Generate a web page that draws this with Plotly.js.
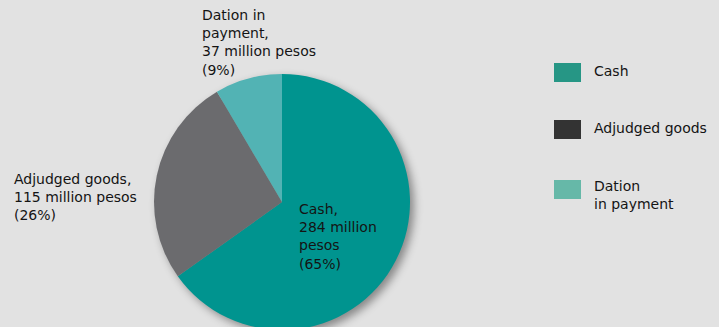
<!DOCTYPE html>
<html>
<head>
<meta charset="utf-8">
<script src="https://cdn.plot.ly/plotly-3.0.1.min.js"></script>
<style>
html,body{margin:0;padding:0;background:#e2e2e2;overflow:hidden;width:719px;height:327px;}
#chart{width:719px;height:333px;}
.pielayer{filter:drop-shadow(4px 4px 4px rgba(0,0,0,0.4));}
</style>
</head>
<body>
<div id="chart"></div>
<script>
// Data
const categories = ["Cash", "Adjudged goods", "Dation in payment"];
const valuesMillionPesos = [284, 115, 37];
const percentLabels = [65, 26, 9];
const sliceColors = ["#00948f", "#6b6b6e", "#52b3b4"];
const legendColors = ["#269685", "#333333", "#66b8a8"];
const legendLabels = ["Cash", "Adjudged goods", "Dation<br>in payment"];
const sliceLabelText = [
  "Cash,<br>" + valuesMillionPesos[0] + " million<br>pesos<br>(" + percentLabels[0] + "%)",
  "Adjudged goods,<br>" + valuesMillionPesos[1] + " million pesos<br>(" + percentLabels[1] + "%)",
  "Dation in<br>payment,<br>" + valuesMillionPesos[2] + " million pesos<br>(" + percentLabels[2] + "%)"
];

const W = 719, H = 333;
const px = x => x / W;
const py = y => 1 - y / H;

const font = {family: "DejaVu Sans, sans-serif", size: 14, color: "#141414"};

const trace = {
  type: "pie",
  labels: categories,
  values: valuesMillionPesos,
  sort: false,
  direction: "clockwise",
  rotation: 0,
  marker: {colors: sliceColors, line: {width: 0}},
  textinfo: "none",
  hoverinfo: "label+value+percent",
  showlegend: false,
  domain: {x: [px(154), px(410)], y: [py(330), py(74)]}
};

// vertical centre and left edge of each slice label block
const labelPos = [
  {x: 297, y: 236},
  {x: 12, y: 197},
  {x: 199.5, y: 43}
];

const annotations = [];
categories.forEach((c, i) => {
  annotations.push({
    xref: "paper", yref: "paper",
    x: px(labelPos[i].x), y: py(labelPos[i].y),
    xanchor: "left", yanchor: "middle", align: "left",
    text: sliceLabelText[i], showarrow: false, font: font
  });
});

const legendY = [71, 128, 195];
const swatchY = [72.5, 129.5, 189.5];
const shapes = [];
legendLabels.forEach((l, i) => {
  shapes.push({
    type: "rect", xref: "paper", yref: "paper",
    x0: px(554), x1: px(581),
    y0: py(swatchY[i] - 9.5), y1: py(swatchY[i] + 9.5),
    fillcolor: legendColors[i], line: {width: 0}
  });
  annotations.push({
    xref: "paper", yref: "paper",
    x: px(592), y: py(legendY[i]),
    xanchor: "left", yanchor: "middle", align: "left",
    text: l, showarrow: false, font: font
  });
});

const layout = {
  width: W, height: H,
  margin: {l: 0, r: 0, t: 0, b: 0},
  paper_bgcolor: "#e2e2e2",
  plot_bgcolor: "#e2e2e2",
  annotations: annotations,
  shapes: shapes,
  showlegend: false
};

Plotly.newPlot("chart", [trace], layout, {displayModeBar: false, staticPlot: true});
</script>
</body>
</html>
